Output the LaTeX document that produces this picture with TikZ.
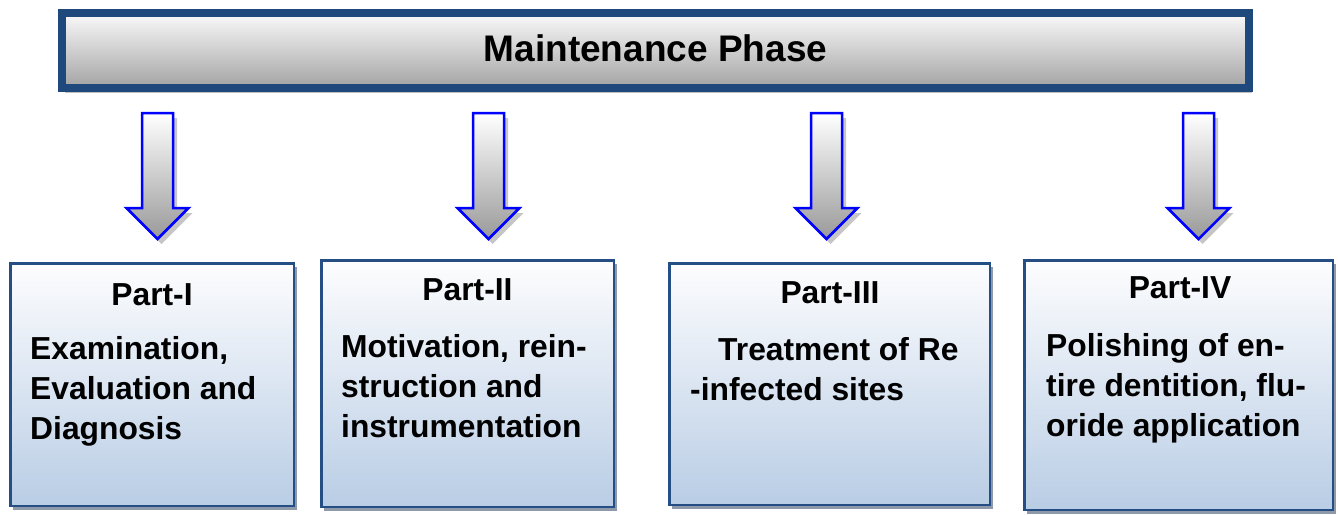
\documentclass[tikz,border=0pt]{standalone}
\usepackage{fontspec}
\setmainfont{Liberation Sans}
\usetikzlibrary{shadows}

\definecolor{barblue}{HTML}{1F497D}
\definecolor{barshadow}{HTML}{C0C0C0}
\definecolor{bartop}{HTML}{FAFAFA}
\definecolor{barbottom}{HTML}{A3A3A3}
\definecolor{boxedge}{HTML}{254F84}
\definecolor{boxtop}{HTML}{FDFDFE}
\definecolor{boxbottom}{HTML}{B9CDE5}
\definecolor{boxshadow}{HTML}{8E9AAA}
\definecolor{arrowedge}{HTML}{0000FF}
\definecolor{arrowbottom}{HTML}{999999}
\definecolor{arrowshadow}{HTML}{C6C6C6}

\tikzset{
  phasebar/.style={draw=barblue, line width=8pt, top color=bartop, bottom color=barbottom,
    minimum width=1187pt, minimum height=75pt, inner sep=0pt,
    drop shadow={shadow xshift=3pt, shadow yshift=-5pt, fill=barshadow, opacity=1}},
  partbox/.style={draw=boxedge, line width=2.5pt, top color=boxtop, bottom color=boxbottom,
    inner sep=0pt,
    drop shadow={shadow xshift=3pt, shadow yshift=-4pt, fill=boxshadow, opacity=1}},
  bartext/.style={font=\bfseries\fontsize{37}{44}\selectfont, inner sep=0pt},
  parttitle/.style={font=\bfseries\fontsize{31.8}{40}\selectfont, inner sep=0pt, anchor=base},
  partbody/.style={font=\bfseries\fontsize{31.8}{40}\selectfont, inner sep=0pt,
    anchor=north west, align=left},
  blockarrow/.style={top color=white, bottom color=arrowbottom, draw=arrowedge,
    line width=2.5pt, line join=miter},
}

% a hollow downward block arrow whose shaft top centre is the named coordinate #1
\newcommand{\downblock}[2]{%
  \coordinate (#1) at (#2,113);
  \fill[arrowshadow] ([shift={(4,5)}]#1) ++(-15.5,0) -- ++(31,0) -- ++(0,95)
    -- ++(15.5,0) -- ++(-31,31) -- ++(-31,-31) -- ++(15.5,0) -- cycle;
  \shade[blockarrow] (#1) ++(-15.5,0) -- ++(31,0) -- ++(0,95)
    -- ++(15.5,0) -- ++(-31,31) -- ++(-31,-31) -- ++(15.5,0) -- cycle;
}

\begin{document}
\begin{tikzpicture}[x=1pt,y=-1pt]
\useasboundingbox (0,0) rectangle (1338,514);

% header bar
\node[phasebar] (bar) at (655.5,50.5) {};
\node[bartext, anchor=base] (bartitle) at (655.5,61) {Maintenance Phase};

% block arrows
\downblock{arrowA}{157.5}
\downblock{arrowB}{488.5}
\downblock{arrowC}{826.5}
\downblock{arrowD}{1198.5}

% part boxes
\node[partbox, minimum width=283.5pt, minimum height=242.5pt] (boxA) at (152,384.5) {};
\node[partbox, minimum width=292.5pt, minimum height=246.5pt] (boxB) at (467.5,383.5) {};
\node[partbox, minimum width=320.5pt, minimum height=241.5pt] (boxC) at (829.5,384) {};
\node[partbox, minimum width=308.5pt, minimum height=249.5pt] (boxD) at (1178.5,385) {};

% titles
\node[parttitle] (titleA) at (152,305) {Part-I};
\node[parttitle] (titleB) at (467.5,300) {Part-II};
\node[parttitle] (titleC) at (830,303) {Part-III};
\node[parttitle] (titleD) at (1180,298) {Part-IV};

% descriptions
\node[partbody] (textA) at (30,336.5) {Examination,\\Evaluation and\\Diagnosis};
\node[partbody] (textB) at (341,334.5) {Motivation, rein-\\struction and\\instrumentation};
\node[partbody] (textC) at (690,337.5) {\hspace*{28pt}Treatment of Re\\-infected sites};
\node[partbody] (textD) at (1046,333.5) {Polishing of en-\\tire dentition, flu-\\oride application};
\end{tikzpicture}
\end{document}
